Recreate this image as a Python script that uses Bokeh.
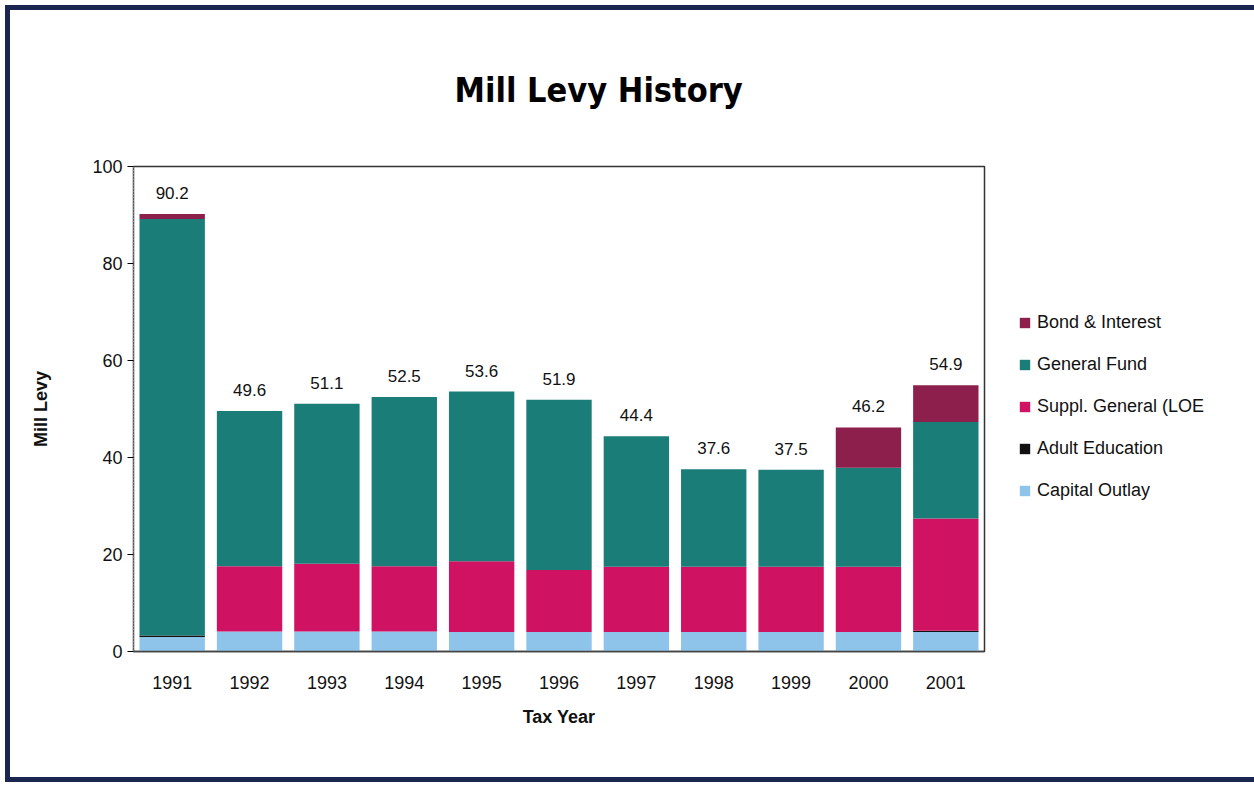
from bokeh.plotting import figure
from bokeh.models import Legend, LegendItem, ColumnDataSource, Range1d, FactorRange
from bokeh.core.properties import value
from bokeh.embed import file_html
from bokeh.resources import INLINE

years = ["1991", "1992", "1993", "1994", "1995", "1996", "1997", "1998", "1999", "2000", "2001"]
capital_outlay = [3.0, 4.1, 4.1, 4.1, 4.0, 4.0, 4.0, 4.0, 4.0, 4.0, 4.0]
adult_education = [0.3, 0, 0, 0, 0, 0, 0, 0, 0, 0, 0.3]
suppl_general = [0, 13.5, 14.0, 13.5, 14.6, 12.8, 13.5, 13.5, 13.5, 13.5, 23.1]
general_fund = [85.9, 32.0, 33.0, 34.9, 35.0, 35.1, 26.9, 20.1, 20.0, 20.4, 19.9]
bond_interest = [1.0, 0, 0, 0, 0, 0, 0, 0, 0, 8.3, 7.6]

series = ["capital", "adult", "suppl", "general", "bond"]
names = ["Capital Outlay", "Adult Education", "Suppl. General (LOE", "General Fund", "Bond & Interest"]
colors = ["#8fc4ea", "#111111", "#cf1262", "#1b7d78", "#8c1f4b"]

totals = [round(a + b + c + d + e, 1) for a, b, c, d, e in
          zip(capital_outlay, adult_education, suppl_general, general_fund, bond_interest)]

src = ColumnDataSource(dict(
    years=years, capital=capital_outlay, adult=adult_education, suppl=suppl_general,
    general=general_fund, bond=bond_interest, total=totals,
    total_txt=[f"{t:.1f}" for t in totals],
))

FL, FR, FT, FB = 133, 984, 166, 651
W, H = 1254, 787
EDGE = 10  # margin + border width around the canvas

p = figure(x_range=FactorRange(*years, range_padding=0), y_range=Range1d(0, 100),
           frame_width=FR - FL, frame_height=FB - FT, output_backend="svg", toolbar_location=None,
           min_border_left=FL - EDGE, min_border_right=W - FR - EDGE,
           min_border_top=FT - EDGE, min_border_bottom=H - FB - EDGE)
p.xgrid.grid_line_color = None
p.ygrid.grid_line_color = None
p.background_fill_color = "white"
p.border_fill_color = "white"
p.outline_line_color = "#333333"
p.outline_line_width = 1.5
p.styles = {"border": "5px solid #1b2650", "margin": "5px", "box-sizing": "content-box"}

p.title.text = "Mill Levy History"
p.title.align = "left"
p.title.offset = 321
p.title.vertical_align = "top"
p.title.text_font = "DejaVu Sans Condensed"
p.title.text_font_style = "bold"
p.title.text_font_size = "34px"
p.title.text_color = "#000000"
p.title.standoff = 110

renderers = p.vbar_stack(series, x="years", width=0.845, color=colors, source=src, line_color=None)

p.text(x="years", y="total", text="total_txt", source=src, y_offset=-15,
       text_align="center", text_baseline="bottom", text_font_size="17px",
       text_font=value("Liberation Sans"), text_color="#111111")

items = [LegendItem(label=names[i], renderers=[renderers[i]]) for i in reversed(range(5))]
legend = Legend(items=items, location=(34, 150), border_line_color=None, background_fill_alpha=0,
                label_text_font_size="18px", label_text_font="Liberation Sans", label_text_color="#111111",
                glyph_width=13, glyph_height=13, label_height=20, spacing=21, margin=0, padding=4,
                label_standoff=6)
p.add_layout(legend, "right")

p.yaxis.ticker = [0, 20, 40, 60, 80, 100]
p.yaxis.major_label_text_font_size = "18px"
p.yaxis.major_label_text_font = "Liberation Sans"
p.yaxis.major_label_text_color = "#111111"
p.yaxis.axis_line_color = "#888888"
p.yaxis.axis_line_dash = "2 1"
p.yaxis.major_tick_out = 6
p.yaxis.major_tick_in = 0
p.yaxis.minor_tick_line_color = None
p.yaxis.axis_label = "Mill Levy"
p.yaxis.axis_label_text_font_size = "18px"
p.yaxis.axis_label_text_font = "Liberation Sans"
p.yaxis.axis_label_text_font_style = "bold"
p.yaxis.axis_label_text_color = "#111111"
p.yaxis.axis_label_standoff = 38

p.xaxis.major_label_text_font_size = "18px"
p.xaxis.major_label_text_font = "Liberation Sans"
p.xaxis.major_label_text_color = "#111111"
p.xaxis.major_tick_line_color = None
p.xaxis.axis_line_color = "#444444"
p.xaxis.axis_line_width = 1.5
p.xaxis.major_label_standoff = 18
p.xaxis.axis_label = "Tax Year"
p.xaxis.axis_label_text_font_size = "18px"
p.xaxis.axis_label_text_font = "Liberation Sans"
p.xaxis.axis_label_text_font_style = "bold"
p.xaxis.axis_label_text_color = "#111111"
p.xaxis.axis_label_standoff = 15

open("out.html", "w").write(file_html(p, INLINE))
